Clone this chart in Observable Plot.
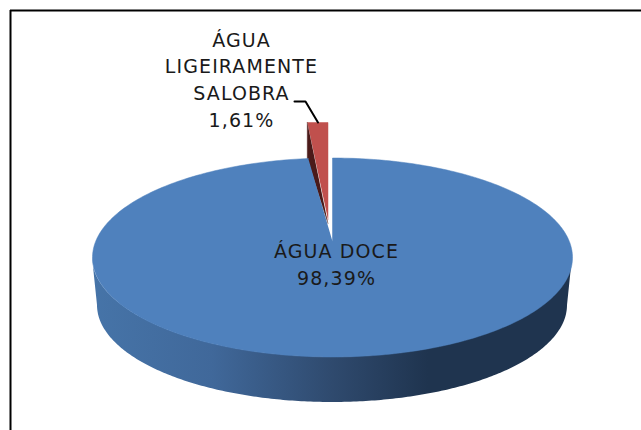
<!DOCTYPE html>
<html><head><meta charset="utf-8">
<script src="https://cdn.jsdelivr.net/npm/d3@7"></script>
<script src="https://cdn.jsdelivr.net/npm/@observablehq/plot@0.6"></script>
<style>html,body{margin:0;padding:0;background:#fff;overflow:hidden}svg{display:block}</style>
</head><body><div id="chart"></div>
<script>
const categories = ["ÁGUA DOCE", "ÁGUA LIGEIRAMENTE SALOBRA"];
const shares = [98.39, 1.61];
const shareLabels = ["98,39%", "1,61%"];
const labelFont = "DejaVu Sans";

const W = 641, H = 430;
const top_ = {cx: 332, cy: 257, rx: 240, ry: 99.5};
const low = {cx: 332, cy: 305, rx: 235, ry: 97};
const raised = {cx: 327.5, cy: 221, rx: 205, ry: 99.5};
const apex = {x: 332, y: 241};
const total = d3.sum(shares);
const freshSweep = shares[0] / total * 2 * Math.PI;
const on = (e, a) => ({x: e.cx + e.rx * Math.sin(a), y: e.cy - e.ry * Math.cos(a)});
const angles = (a0, a1, n) => d3.range(n + 1).map(i => a0 + (a1 - a0) * i / n);

const freshFace = [apex, ...angles(0, freshSweep, 360).map(a => on(top_, a))];
const wall = angles(Math.PI / 2, 3 * Math.PI / 2, 240).map(a => {
  const p = on(top_, a), q = on(low, a);
  return {x1: p.x, y1: p.y, x2: q.x, y2: q.y};
});
const edgeAt = on(top_, freshSweep);
const saltTop = on(raised, freshSweep), saltEnd = on(raised, 2 * Math.PI);
const saltTip = {x: raised.cx, y: 219};
const saltDark = [saltTop, {x: saltTop.x, y: edgeAt.y}, {x: saltTip.x, y: saltTip.y + 4}];
const saltRed = [saltTop, {x: saltEnd.x, y: saltTop.y}, saltTip];
const leader = [{x: 294, y: 101}, {x: 305, y: 101}, {x: 317.5, y: 122}];
const textRows = [
  {x: 241, y: 40, t: "ÁGUA"},
  {x: 241, y: 66, t: "LIGEIRAMENTE"},
  {x: 241, y: 93, t: "SALOBRA"},
  {x: 241, y: 120, t: shareLabels[1]},
  {x: 336, y: 251, t: categories[0]},
  {x: 336, y: 278, t: shareLabels[0]}
];

const gradient = () => {
  const svg = d3.create("svg:g");
  const g = svg.append("defs").append("linearGradient")
    .attr("id", "wallShade").attr("gradientUnits", "userSpaceOnUse")
    .attr("x1", 92).attr("x2", 572).attr("y1", 0).attr("y2", 0);
  [[0, "#4674a8"], [0.25, "#40689a"], [0.5, "#2f4a6e"], [0.7, "#1f344f"], [1, "#1f344f"]]
    .forEach(([o, c]) => g.append("stop").attr("offset", o).attr("stop-color", c));
  return svg.node();
};

const chart = Plot.plot({
  width: W, height: H,
  marginTop: 0, marginRight: 0, marginBottom: 0, marginLeft: 0,
  x: {domain: [0, W], range: [0, W], axis: null},
  y: {domain: [0, H], range: [0, H], axis: null},
  style: {background: "#fff", letterSpacing: "1.1px"},
  marks: [
    gradient,
    Plot.area(wall, {x1: "x1", y1: "y1", x2: "x2", y2: "y2", fill: "url(#wallShade)"}),
    Plot.line(saltRed, {x: "x", y: "y", fill: "#c0504d", stroke: "#c0504d", strokeWidth: 0.5}),
    Plot.line(saltDark, {x: "x", y: "y", fill: "#4a1a19", stroke: "#4a1a19", strokeWidth: 0.5}),
    Plot.line(freshFace, {x: "x", y: "y", fill: "#4f81bd", stroke: "#4f81bd", strokeWidth: 0.5}),
    Plot.line(leader, {x: "x", y: "y", stroke: "#000", strokeWidth: 2, curve: "linear"}),
    Plot.text(textRows, {x: "x", y: "y", text: "t", fontSize: 19, fontFamily: labelFont, fill: "#1a1a1a", lineAnchor: "middle"}),
    Plot.ruleX([10], {y1: 10, y2: H, stroke: "#000", strokeWidth: 2}),
    Plot.ruleY([10], {x1: 10, x2: W, stroke: "#000", strokeWidth: 2})
  ]
});
document.getElementById("chart").append(chart);
</script></body></html>
